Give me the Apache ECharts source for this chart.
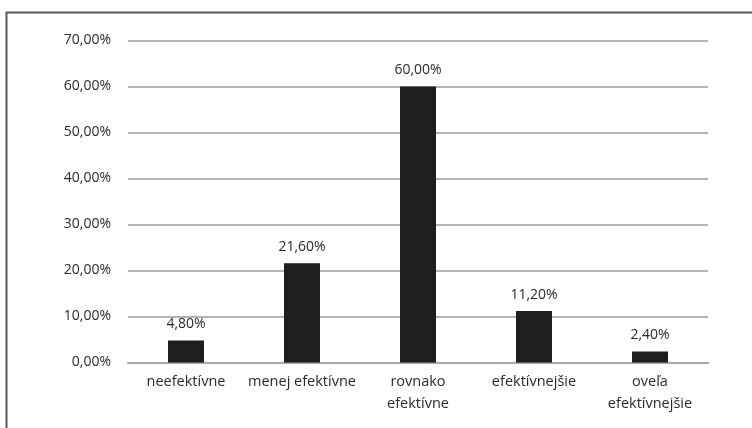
<!DOCTYPE html>
<html>
<head>
<meta charset="utf-8">
<script src="https://cdn.jsdelivr.net/npm/echarts@6/dist/echarts.min.js"></script>
<style>
  html, body { margin: 0; padding: 0; background: #fff; }
  #chart { width: 752px; height: 428px; }
</style>
</head>
<body>
<div id="chart"></div>
<script>
// Survey answers: how effective compared to before
const categories = ['neefektívne', 'menej efektívne', 'rovnako\nefektívne', 'efektívnejšie', 'oveľa\nefektívnejšie'];
const shares = [4.8, 21.6, 60.0, 11.2, 2.4];
const yTicks = [0, 10, 20, 30, 40, 50, 60, 70];

const FONT = '"Open Sans"';
const pct = v => v.toFixed(2).replace('.', ',') + '%';

const chart = echarts.init(document.getElementById('chart'), null, { renderer: 'canvas' });
chart.setOption({
  backgroundColor: '#ffffff',
  animation: false,
  textStyle: { fontFamily: FONT },
  grid: { left: 128, right: 44, top: 40.5, bottom: 65.5, containLabel: false },
  xAxis: {
    type: 'category',
    data: categories,
    axisLine: { show: true, lineStyle: { color: '#a8a8a8', width: 2 } },
    axisTick: { show: false },
    axisLabel: {
      color: '#2a2a2a',
      fontSize: 14.5,
      fontFamily: FONT,
      lineHeight: 22,
      margin: 8,
      interval: 0
    }
  },
  yAxis: {
    type: 'value',
    min: yTicks[0],
    max: yTicks[yTicks.length - 1],
    interval: 10,
    axisLine: { show: false },
    axisTick: { show: false },
    splitLine: { show: true, lineStyle: { color: '#b4b4b4', width: 2 } },
    axisLabel: {
      color: '#2a2a2a',
      fontSize: 14,
      fontFamily: FONT,
      margin: 17,
      formatter: v => pct(v)
    }
  },
  series: [{
    type: 'bar',
    data: shares,
    barWidth: 36,
    itemStyle: { color: '#1e1e1e' },
    label: {
      show: true,
      position: 'top',
      distance: 9,
      color: '#2a2a2a',
      fontSize: 14,
      fontFamily: FONT,
      formatter: p => pct(p.value)
    }
  }],
  graphic: [{
    type: 'polyline',
    shape: { points: [[6.5, 428], [6.5, 12.5], [752, 12.5]] },
    style: { stroke: '#5a5a5a', lineWidth: 2, fill: null },
    silent: true
  }]
});
</script>
</body>
</html>
